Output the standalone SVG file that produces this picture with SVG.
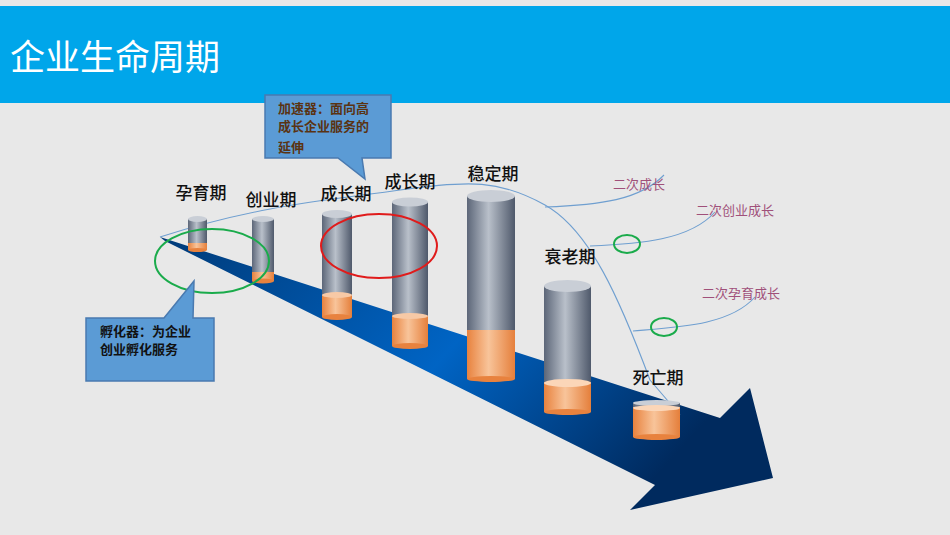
<svg xmlns="http://www.w3.org/2000/svg" width="950" height="535" viewBox="0 0 950 535">
<style>
.lbl{font-family:"Noto Sans CJK SC","Liberation Sans",sans-serif;font-size:17px;fill:#111;font-weight:500;text-anchor:middle}
.pk{font-family:"Noto Sans CJK SC","Liberation Sans",sans-serif;font-size:13px;fill:#a0507a}
.co{font-family:"Noto Sans CJK SC","Liberation Sans",sans-serif;font-size:13px;font-weight:bold}
.thin{fill:none;stroke:#6f9fd0;stroke-width:1.1}
.ring{fill:none;stroke-width:2}
</style>
<defs>
<linearGradient id="arr" x1="0" y1="0" x2="1" y2="0.4">
<stop offset="0" stop-color="#003a78"/><stop offset="0.55" stop-color="#0064c4"/><stop offset="1" stop-color="#002a5e"/>
</linearGradient>
<linearGradient id="gr" x1="0" y1="0" x2="1" y2="0">
<stop offset="0" stop-color="#5c6678"/><stop offset="0.45" stop-color="#b9c0ca"/><stop offset="1" stop-color="#4f596b"/>
</linearGradient>
<linearGradient id="or" x1="0" y1="0" x2="1" y2="0">
<stop offset="0" stop-color="#e8823e"/><stop offset="0.45" stop-color="#f8c49a"/><stop offset="1" stop-color="#e57f3b"/>
</linearGradient>
</defs>
<rect width="950" height="535" fill="#e8e8e8"/>
<rect x="0" y="6" width="950" height="97" fill="#00a6ea"/>
<text x="10" y="70" font-family="Noto Sans CJK SC,Liberation Sans,sans-serif" font-size="35" fill="#fff">企业生命周期</text>
<polygon points="160,237 720,418 750,388 773,478 630,510 655,485 165,241" fill="url(#arr)"/>
<g id="connectors">
<path class="thin" d="M160,237 C260,205 330,200 400,190 S500,180 545,205 C590,230 620,300 650,380 L680,415"/>
<path class="thin" d="M545,207 C600,205 640,200 664,175"/>
<path class="thin" d="M590,246 C640,244 690,240 715,212"/>
<path class="thin" d="M633,331 C680,327 730,325 755,297"/>
</g>
<g id="c1"><rect x="188" y="219" width="19" height="31" fill="url(#gr)"/><rect x="188" y="243" width="19" height="7" fill="url(#or)"/><ellipse cx="197.5" cy="219" rx="9.5" ry="3" fill="#c9ced6"/><ellipse cx="197.5" cy="250" rx="9.5" ry="2" fill="#e8823e"/><text class="lbl" x="201" y="199">孕育期</text></g>
<g id="c2"><rect x="252" y="219" width="22" height="62" fill="url(#gr)"/><rect x="252" y="272" width="22" height="9" fill="url(#or)"/><ellipse cx="263" cy="219" rx="11" ry="3" fill="#c9ced6"/><ellipse cx="263" cy="281" rx="11" ry="2.5" fill="#e8823e"/><text class="lbl" x="271" y="206">创业期</text></g>
<g id="c3"><rect x="322" y="214" width="30" height="103" fill="url(#gr)"/><rect x="322" y="295" width="30" height="22" fill="url(#or)"/><ellipse cx="337" cy="214" rx="15" ry="4" fill="#c9ced6"/><ellipse cx="337" cy="295" rx="15" ry="3" fill="#f7c9a6"/><ellipse cx="337" cy="317" rx="15" ry="3" fill="#e8823e"/><text class="lbl" x="346" y="200">成长期</text></g>
<g id="c4"><rect x="392" y="202" width="36" height="144" fill="url(#gr)"/><rect x="392" y="316" width="36" height="30" fill="url(#or)"/><ellipse cx="410" cy="202" rx="18" ry="4.5" fill="#c9ced6"/><ellipse cx="410" cy="316" rx="18" ry="3" fill="#f7c9a6"/><ellipse cx="410" cy="346" rx="18" ry="3" fill="#e8823e"/><text class="lbl" x="410" y="188">成长期</text></g>
<g id="c5"><rect x="467" y="196" width="48" height="183" fill="url(#gr)"/><rect x="467" y="330" width="48" height="49" fill="url(#or)"/><ellipse cx="491" cy="196" rx="24" ry="6" fill="#c9ced6"/><ellipse cx="491" cy="379" rx="24" ry="3" fill="#e8823e"/><text class="lbl" x="493" y="180">稳定期</text></g>
<g id="c6"><rect x="544" y="286" width="47" height="126" fill="url(#gr)"/><rect x="544" y="382" width="47" height="30" fill="url(#or)"/><ellipse cx="567.5" cy="286" rx="23.5" ry="6" fill="#c9ced6"/><ellipse cx="567.5" cy="383" rx="23.5" ry="4" fill="#fbd6b8"/><ellipse cx="567.5" cy="412" rx="23.5" ry="3" fill="#e8823e"/><text class="lbl" x="570" y="263">衰老期</text></g>
<g id="c7"><rect x="633" y="403" width="47" height="34" fill="url(#gr)"/><rect x="633" y="407" width="47" height="30" fill="url(#or)"/><ellipse cx="656.5" cy="403" rx="23.5" ry="3" fill="#c9ced6"/><ellipse cx="656.5" cy="408" rx="23.5" ry="3" fill="#fbd6b8"/><ellipse cx="656.5" cy="437" rx="23.5" ry="3" fill="#e8823e"/><text class="lbl" x="658" y="384">死亡期</text></g>
<g id="rings">
<ellipse class="ring" cx="212" cy="261" rx="57" ry="32" stroke="#1aab4b"/>
<ellipse class="ring" cx="379" cy="246" rx="58" ry="32" stroke="#e01b1b"/>
<ellipse class="ring" cx="627" cy="244" rx="13" ry="9" stroke="#1aab4b"/>
<ellipse class="ring" cx="664" cy="327" rx="13" ry="9" stroke="#1aab4b"/>
</g>
<g id="labels2">
<text class="pk" x="613" y="189">二次成长</text>
<text class="pk" x="696" y="215">二次创业成长</text>
<text class="pk" x="702" y="298">二次孕育成长</text>
</g>
<g id="callout1"><path d="M265,95 H391 V158 H362 L365,179 L338,158 H265 Z" fill="#5b9bd5" stroke="#4a7ab0" stroke-width="1.5"/>
<text class="co" fill="#5a3312" x="278" y="113">加速器：面向高</text><text class="co" fill="#5a3312" x="278" y="131">成长企业服务的</text><text class="co" fill="#5a3312" x="278" y="152">延伸</text></g>
<g id="callout2"><path d="M86,318 H164 L194,281 L193,318 H214 V381 H86 Z" fill="#5b9bd5" stroke="#4a7ab0" stroke-width="1.5"/>
<text class="co" font-weight="normal" font-size="12" fill="#111" x="100" y="336">孵化器：为企业</text><text class="co" font-weight="normal" font-size="12" fill="#111" x="100" y="354">创业孵化服务</text></g>
</svg>
